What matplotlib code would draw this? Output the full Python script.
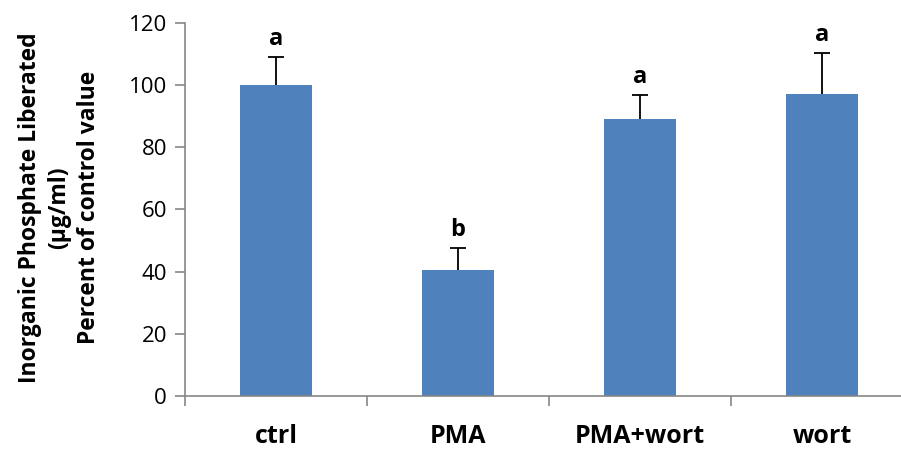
import matplotlib
matplotlib.use("Agg")
import matplotlib.pyplot as plt
import numpy as np

plt.rcParams['font.family'] = ['Open Sans', 'DejaVu Sans']

groups = ['ctrl', 'PMA', 'PMA+wort', 'wort']
values = [100, 40.5, 89, 97]
errors = [9, 7, 7.8, 13.2]
letters = ['a', 'b', 'a', 'a']

fig = plt.figure(figsize=(9.01, 4.51), dpi=100)
ax = fig.add_axes([0.2053, 0.122, 0.808, 0.827])

x = np.arange(len(groups))
ax.bar(x, values, width=0.4, color='#4F81BD', zorder=2)
eb = ax.errorbar(x, values, yerr=[np.zeros(len(errors)), errors], fmt='none',
                 ecolor='black', elinewidth=1.3, capsize=6, capthick=1.3, zorder=3)
# only the upper cap is wanted
eb[1][0].set_visible(False)

for xi, v, e, l in zip(x, values, errors, letters):
    ax.text(xi, v + e + 2, l, ha='center', va='bottom', fontsize=17, fontweight='bold')

ax.set_xlim(-0.5, len(groups) - 0.5)
ax.set_ylim(0, 120)
ax.set_yticks(np.arange(0, 121, 20))
ax.tick_params(axis='y', labelsize=16, length=7, color='#868686', width=1.2, pad=6)

# category ticks sit between the bars
ax.set_xticks(x)
ax.set_xticklabels(groups, fontsize=18, fontweight='bold')
ax.tick_params(axis='x', length=0, pad=20)
ax.set_xticks(np.arange(-0.5, len(groups), 1), minor=True)
ax.tick_params(axis='x', which='minor', length=7, color='#868686', width=1.2)

for s in ['top', 'right']:
    ax.spines[s].set_visible(False)
for s in ['left', 'bottom']:
    ax.spines[s].set_color('#868686')
    ax.spines[s].set_linewidth(1.2)

fig.text(0.066, 0.54, 'Inorganic Phosphate Liberated\n(µg/ml)\nPercent of control value',
         rotation=90, ha='center', va='center', fontsize=16.5, fontweight='bold',
         multialignment='center', linespacing=1.3)

fig.savefig('out.png', dpi=100)
